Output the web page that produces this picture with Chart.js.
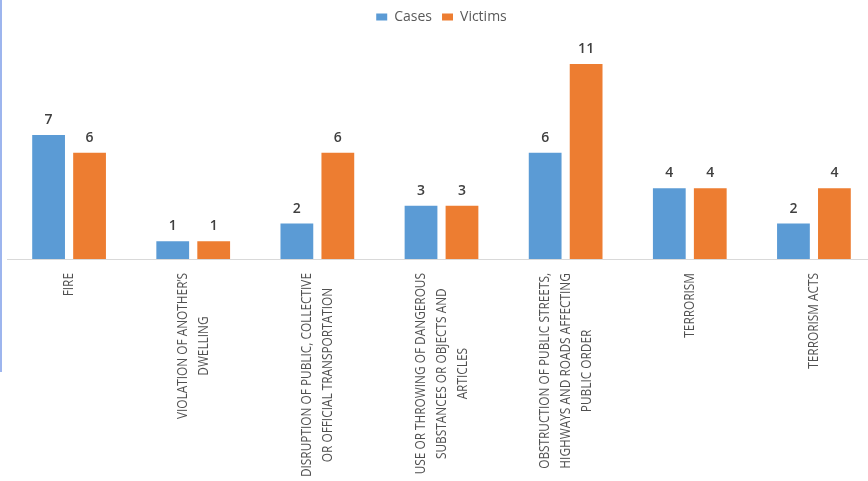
<!DOCTYPE html>
<html>
<head>
<meta charset="utf-8">
<script src="https://cdn.jsdelivr.net/npm/chart.js@4/dist/chart.umd.min.js"></script>
<style>
  html, body { margin: 0; padding: 0; background: #ffffff; overflow: hidden; }
  #wrap { position: relative; width: 880px; height: 481px; }
  #edge { position: absolute; left: 0; top: 0; width: 2px; height: 372px; background: #9db5ee; z-index: 2; }
</style>
</head>
<body>
<div id="wrap">
  <div id="edge"></div>
  <canvas id="c"></canvas>
</div>
<script>
const categories = [
  ["FIRE"],
  ["VIOLATION OF ANOTHER\u2019S", "DWELLING"],
  ["DISRUPTION OF PUBLIC, COLLECTIVE", "OR OFFICIAL TRANSPORTATION"],
  ["USE OR THROWING OF DANGEROUS", "SUBSTANCES OR OBJECTS AND", "ARTICLES"],
  ["OBSTRUCTION OF PUBLIC STREETS,", "HIGHWAYS AND ROADS AFFECTING", "PUBLIC ORDER"],
  ["TERRORISM"],
  ["TERRORISM ACTS"]
];
const seriesNames = ["Cases", "Victims"];
const cases = [7, 1, 2, 3, 6, 4, 2];
const victims = [6, 1, 6, 3, 11, 4, 4];

const valueLabels = {
  id: 'valueLabels',
  afterDatasetsDraw(chart) {
    const ctx = chart.ctx;
    ctx.save();
    ctx.font = '600 14px "Open Sans"';
    ctx.fillStyle = '#404040';
    ctx.textAlign = 'center';
    ctx.textBaseline = 'middle';
    chart.data.datasets.forEach((ds, di) => {
      const meta = chart.getDatasetMeta(di);
      meta.data.forEach((bar, i) => {
        ctx.fillText(String(ds.data[i]), bar.x, bar.y - 15);
      });
    });
    ctx.restore();
  }
};

const categoryLabels = {
  id: 'categoryLabels',
  afterDraw(chart) {
    const ctx = chart.ctx;
    const xs = chart.scales.x;
    const baseY = chart.chartArea.bottom;
    const k = 0.79;
    const lh = 21;
    ctx.save();
    ctx.font = '15px "Open Sans"';
    ctx.fillStyle = '#505050';
    ctx.textAlign = 'center';
    ctx.textBaseline = 'middle';
    categories.forEach((lines, i) => {
      const cx = xs.getPixelForValue(i);
      let maxW = 0;
      lines.forEach(l => { maxW = Math.max(maxW, ctx.measureText(l).width * k); });
      const cy = baseY + 14 + maxW / 2;
      ctx.save();
      ctx.translate(cx, cy);
      ctx.rotate(-Math.PI / 2);
      ctx.scale(k, 1);
      const n = lines.length;
      lines.forEach((l, j) => {
        ctx.fillText(l, 0, (j - (n - 1) / 2) * lh);
      });
      ctx.restore();
    });
    ctx.restore();
  }
};

new Chart(document.getElementById('c'), {
  type: 'bar',
  data: {
    labels: categories,
    datasets: [
      { label: seriesNames[0], data: cases, backgroundColor: '#5b9bd5' },
      { label: seriesNames[1], data: victims, backgroundColor: '#ed7d31' }
    ]
  },
  options: {
    responsive: true,
    maintainAspectRatio: false,
    animation: false,
    devicePixelRatio: 1,
    layout: { padding: { left: 7, right: 4, top: 0, bottom: 214 } },
    datasets: { bar: { categoryPercentage: 0.66, barPercentage: 0.8 } },
    scales: {
      x: {
        grid: { display: false },
        border: { display: true, color: '#d9d9d9', width: 1 },
        ticks: { display: false }
      },
      y: {
        display: false,
        min: 0,
        max: 12.7
      }
    },
    plugins: {
      legend: {
        position: 'top',
        labels: {
          boxWidth: 11,
          boxHeight: 7,
          color: '#595959',
          font: { family: '"Open Sans"', size: 14 },
          padding: 10
        }
      },
      tooltip: { enabled: false }
    }
  },
  plugins: [valueLabels, categoryLabels]
});
</script>
</body>
</html>
